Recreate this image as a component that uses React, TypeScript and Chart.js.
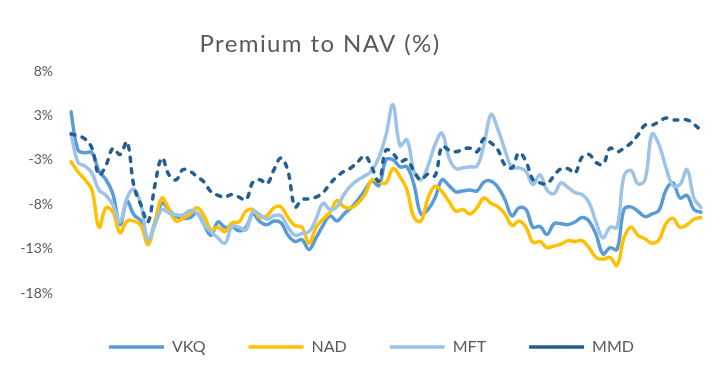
import React, { useEffect, useRef } from "react";
import { Chart, registerables } from "chart.js";

Chart.register(...registerables);

const TITLE = "Premium to NAV (%)";
const SERIES_NAMES = ["VKQ", "NAD", "MFT", "MMD"];
const COLORS = ["#5B9BD5", "#FFC000", "#9DC3E6", "#255E91"];

const periods: string[] = Array.from({ length: 91 }, (_, i) => `P${i + 1}`);

const yTickValues = [7.5, 2.5, -2.5, -7.5, -12.5, -17.5];

const vkq = [
  2.9, -1.4, -1.7, -1.7, -3.8, -4.75, -6.4, -9.8, -7.2, -8.7,
  -9.4, -11.7, -9.5, -7.4, -8.1, -8.9, -9.1, -9.0, -8.5, -9.8,
  -11.0, -9.5, -10.1, -10.0, -10.5, -10.1, -8.6, -9.5, -9.8, -9.4,
  -9.6, -11.0, -11.7, -11.5, -12.6, -11.3, -9.9, -8.8, -9.4, -8.6,
  -7.9, -7.0, -5.9, -4.9, -5.4, -2.5, -2.5, -3.3, -3.3, -5.3,
  -8.6, -8.1, -6.8, -4.75, -5.4, -6.1, -6.0, -5.9, -6.0, -5.0,
  -4.9, -5.6, -7.0, -8.8, -7.9, -8.1, -10.1, -10.0, -10.9, -9.7,
  -9.7, -9.8, -9.5, -9.0, -9.4, -10.9, -13.1, -12.4, -12.6, -8.1,
  -7.8, -8.3, -8.9, -8.6, -8.2, -5.9, -5.1, -6.8, -6.5, -8.1,
  -8.4,
];

const nad = [
  -2.7, -3.85, -4.75, -5.9, -10.1, -7.9, -8.4, -10.7, -9.4, -9.4,
  -9.9, -12.05, -9.5, -6.8, -8.1, -9.4, -9.1, -8.6, -7.9, -8.8,
  -10.4, -10.1, -10.6, -9.6, -9.5, -8.3, -8.1, -9.0, -8.8, -7.9,
  -7.8, -9.0, -9.9, -10.1, -11.9, -10.1, -9.2, -8.4, -7.1, -7.8,
  -7.9, -7.4, -6.4, -4.75, -5.0, -5.1, -3.5, -4.4, -5.9, -9.0,
  -9.4, -6.8, -5.5, -6.1, -7.2, -8.3, -8.1, -8.6, -7.9, -6.8,
  -7.4, -7.8, -8.6, -9.9, -9.4, -10.1, -11.8, -11.7, -12.4, -12.2,
  -12.0, -11.6, -11.7, -11.6, -12.4, -13.5, -13.7, -13.5, -14.4, -11.3,
  -10.1, -11.0, -11.4, -11.9, -11.5, -9.7, -9.1, -10.1, -9.8, -9.2,
  -9.0,
];

const mft = [
  0.5, -2.8, -3.2, -4.0, -5.9, -6.5, -7.6, -9.5, -6.8, -5.8,
  -7.6, -11.5, -9.8, -8.1, -8.5, -8.7, -8.7, -8.2, -8.5, -9.8,
  -10.6, -11.3, -11.9, -10.0, -10.1, -10.4, -8.3, -8.7, -9.2, -8.8,
  -8.8, -10.1, -11.0, -10.8, -10.6, -9.2, -7.4, -8.1, -7.8, -6.4,
  -5.4, -4.75, -4.3, -3.7, -2.2, 0.3, 3.7, -0.9, -0.25, -3.8,
  -4.75, -3.2, -0.8, 0.5, -2.3, -3.5, -3.4, -3.3, -3.2, -0.8,
  2.6, 0.9, -1.4, -3.4, -3.4, -3.8, -5.3, -4.2, -5.9, -6.3,
  -5.1, -5.6, -6.2, -6.4, -7.3, -9.5, -11.3, -10.1, -10.1, -4.3,
  -3.7, -5.2, -4.75, 0.4, -0.8, -3.4, -5.4, -5.3, -3.6, -6.8,
  -7.9,
];

const mmd = [
  0.4, 0.2, -0.15, -1.2, -4.2, -3.1, -1.2, -1.9, -0.5, -5.5,
  -7.6, -9.5, -5.3, -2.3, -4.2, -4.75, -3.6, -3.8, -4.4, -5.0,
  -6.1, -6.5, -6.7, -6.4, -6.7, -7.0, -5.0, -4.75, -5.2, -3.6,
  -2.3, -3.8, -7.8, -7.0, -6.9, -6.7, -6.2, -5.2, -4.4, -3.8,
  -3.4, -2.7, -2.05, -3.4, -4.9, -1.4, -1.8, -2.7, -2.5, -3.8,
  -4.75, -4.1, -4.3, -1.0, -1.4, -1.6, -1.3, -1.2, -1.6, -0.1,
  -0.6, -1.4, -3.1, -3.4, -1.7, -2.7, -4.75, -5.1, -5.2, -4.3,
  -3.5, -3.5, -4.0, -2.2, -1.9, -2.8, -3.0, -1.2, -1.6, -1.2,
  -0.6, 0.3, 1.4, 1.4, 1.8, 2.2, 2.0, 2.0, 2.0, 1.5,
  0.8,
];

const SERIES = [vkq, nad, mft, mmd];

const fmtPct = (v: number) => {
  const r = Math.sign(v) * Math.round(Math.abs(v));
  return `${r}%`;
};

const titlePlugin = {
  id: "customTitle",
  afterDraw(chart: any) {
    const ctx = chart.ctx;
    ctx.save();
    ctx.font = "24px Lato";
    try {
      (ctx as any).letterSpacing = "1.4px";
    } catch (e) {}
    ctx.fillStyle = "#595959";
    ctx.textAlign = "center";
    ctx.textBaseline = "alphabetic";
    ctx.fillText(TITLE, 320, 52);
    ctx.restore();
  },
};

const legendShift = {
  id: "legendShift",
  afterLayout(chart: any) {
    const l = chart.legend;
    if (l) {
      l.left += 21;
      l.right += 21;
    }
  },
};

export default function App() {
  const ref = useRef<HTMLCanvasElement | null>(null);

  useEffect(() => {
    if (!ref.current) return;
    const datasets = SERIES.map((data, i) => ({
      label: SERIES_NAMES[i],
      data,
      borderColor: COLORS[i],
      backgroundColor: COLORS[i],
      borderWidth: 3.5,
      pointRadius: 0,
      pointHoverRadius: 0,
      tension: 0.4,
      fill: false,
      borderCapStyle: "round" as const,
      borderJoinStyle: "round" as const,
      borderDash: i === 3 ? [4, 7.5] : [],
      order: 3 - i,
    }));

    const chart = new Chart(ref.current, {
      type: "line",
      data: { labels: periods, datasets },
      plugins: [titlePlugin, legendShift],
      options: {
        animation: false,
        responsive: false,
        devicePixelRatio: 1,
        layout: { padding: { left: 0, right: 20, top: 71, bottom: 4 } },
        scales: {
          x: {
            type: "category",
            offset: false,
            grid: { display: false },
            border: { display: false },
            ticks: { display: false },
            afterFit: (s: any) => {
              s.height = 3;
            },
          },
          y: {
            min: -17.5,
            max: 7.5,
            grid: { display: false, drawTicks: false },
            border: { display: false },
            afterBuildTicks: (s: any) => {
              s.ticks = yTickValues.map((v) => ({ value: v }));
            },
            afterFit: (s: any) => {
              s.width = 71;
            },
            ticks: {
              padding: 18,
              color: "#595959",
              font: { family: "Lato", size: 14 },
              callback: (v: any) => fmtPct(Number(v)),
            },
          },
        },
        plugins: {
          title: { display: false },
          tooltip: { enabled: false },
          legend: {
            display: true,
            position: "bottom",
            labels: {
              usePointStyle: true,
              pointStyle: "line",
              pointStyleWidth: 55,
              padding: 43,
              color: "#595959",
              font: { family: "Lato", size: 16 },
              sort: (a: any, b: any) => a.datasetIndex - b.datasetIndex,
            },
          },
        },
      },
    });
    return () => chart.destroy();
  }, []);

  return (
    <div style={{ position: "absolute", left: 0, top: 0, width: 721, height: 369, background: "#fff" }}>
      <canvas ref={ref} width={721} height={369} />
    </div>
  );
}
